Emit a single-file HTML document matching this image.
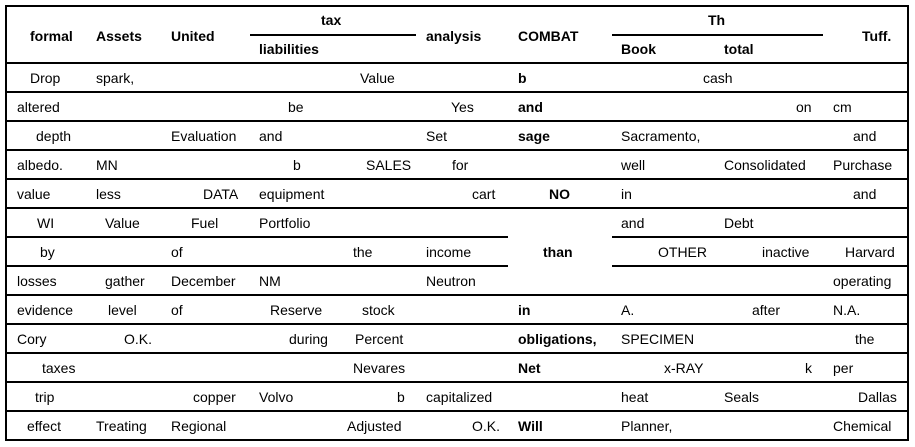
<!DOCTYPE html>
<html><head><meta charset="utf-8"><style>
html,body{margin:0;padding:0;background:#fff;}
body{width:915px;height:447px;position:relative;overflow:hidden;font-family:"Segoe UI","Liberation Sans",sans-serif;font-size:14px;color:#000;}
.l{position:absolute;background:#000;}
.t{position:absolute;line-height:18px;white-space:nowrap;}
.b{font-weight:bold;}
</style></head><body>
<div class="l" style="left:5px;top:5px;width:904px;height:2px"></div>
<div class="l" style="left:5px;top:5px;width:2px;height:436px"></div>
<div class="l" style="left:907px;top:5px;width:2px;height:436px"></div>
<div class="l" style="left:250px;top:34px;width:166px;height:2px"></div>
<div class="l" style="left:612px;top:34px;width:211px;height:2px"></div>
<div class="l" style="left:5px;top:62px;width:904px;height:2px"></div>
<div class="l" style="left:5px;top:91px;width:904px;height:2px"></div>
<div class="l" style="left:5px;top:120px;width:904px;height:2px"></div>
<div class="l" style="left:5px;top:149px;width:904px;height:2px"></div>
<div class="l" style="left:5px;top:178px;width:904px;height:2px"></div>
<div class="l" style="left:5px;top:207px;width:904px;height:2px"></div>
<div class="l" style="left:5px;top:236px;width:503px;height:2px"></div>
<div class="l" style="left:612px;top:236px;width:297px;height:2px"></div>
<div class="l" style="left:5px;top:265px;width:503px;height:2px"></div>
<div class="l" style="left:612px;top:265px;width:297px;height:2px"></div>
<div class="l" style="left:5px;top:294px;width:904px;height:2px"></div>
<div class="l" style="left:5px;top:323px;width:904px;height:2px"></div>
<div class="l" style="left:5px;top:352px;width:904px;height:2px"></div>
<div class="l" style="left:5px;top:381px;width:904px;height:2px"></div>
<div class="l" style="left:5px;top:410px;width:904px;height:2px"></div>
<div class="l" style="left:5px;top:439px;width:904px;height:2px"></div>

<div class="t b" style="left:30px;top:27px">formal</div>
<div class="t b" style="left:96px;top:27px">Assets</div>
<div class="t b" style="left:171px;top:27px">United</div>
<div class="t b" style="left:321px;top:11px">tax</div>
<div class="t b" style="left:259px;top:40px">liabilities</div>
<div class="t b" style="left:426px;top:27px">analysis</div>
<div class="t b" style="left:518px;top:27px">COMBAT</div>
<div class="t b" style="left:708px;top:11px">Th</div>
<div class="t b" style="left:621px;top:40px">Book</div>
<div class="t b" style="left:724px;top:40px">total</div>
<div class="t b" style="left:862px;top:27px">Tuff.</div>

<div class="t" style="left:30px;top:69px">Drop</div><div class="t" style="left:96px;top:69px">spark,</div><div class="t" style="left:360px;top:69px">Value</div><div class="t b" style="left:518px;top:69px">b</div><div class="t" style="left:703px;top:69px">cash</div>

<div class="t" style="left:17px;top:98px">altered</div><div class="t" style="left:288px;top:98px">be</div><div class="t" style="left:451px;top:98px">Yes</div><div class="t b" style="left:518px;top:98px">and</div><div class="t" style="left:796px;top:98px">on</div><div class="t" style="left:833px;top:98px">cm</div>

<div class="t" style="left:36px;top:127px">depth</div><div class="t" style="left:171px;top:127px">Evaluation</div><div class="t" style="left:259px;top:127px">and</div><div class="t" style="left:426px;top:127px">Set</div><div class="t b" style="left:518px;top:127px">sage</div><div class="t" style="left:621px;top:127px">Sacramento,</div><div class="t" style="left:853px;top:127px">and</div>

<div class="t" style="left:17px;top:156px">albedo.</div><div class="t" style="left:96px;top:156px">MN</div><div class="t" style="left:293px;top:156px">b</div><div class="t" style="left:366px;top:156px">SALES</div><div class="t" style="left:452px;top:156px">for</div><div class="t" style="left:621px;top:156px">well</div><div class="t" style="left:724px;top:156px">Consolidated</div><div class="t" style="left:833px;top:156px">Purchase</div>

<div class="t" style="left:17px;top:185px">value</div><div class="t" style="left:96px;top:185px">less</div><div class="t" style="left:203px;top:185px">DATA</div><div class="t" style="left:259px;top:185px">equipment</div><div class="t" style="left:472px;top:185px">cart</div><div class="t b" style="left:549px;top:185px">NO</div><div class="t" style="left:621px;top:185px">in</div><div class="t" style="left:853px;top:185px">and</div>

<div class="t" style="left:37px;top:214px">WI</div><div class="t" style="left:105px;top:214px">Value</div><div class="t" style="left:191px;top:214px">Fuel</div><div class="t" style="left:259px;top:214px">Portfolio</div><div class="t" style="left:621px;top:214px">and</div><div class="t" style="left:724px;top:214px">Debt</div>

<div class="t" style="left:40px;top:243px">by</div><div class="t" style="left:171px;top:243px">of</div><div class="t" style="left:353px;top:243px">the</div><div class="t" style="left:426px;top:243px">income</div><div class="t b" style="left:543px;top:243px">than</div><div class="t" style="left:658px;top:243px">OTHER</div><div class="t" style="left:762px;top:243px">inactive</div><div class="t" style="left:845px;top:243px">Harvard</div>

<div class="t" style="left:17px;top:272px">losses</div><div class="t" style="left:105px;top:272px">gather</div><div class="t" style="left:171px;top:272px">December</div><div class="t" style="left:259px;top:272px">NM</div><div class="t" style="left:426px;top:272px">Neutron</div><div class="t" style="left:833px;top:272px">operating</div>

<div class="t" style="left:17px;top:301px">evidence</div><div class="t" style="left:108px;top:301px">level</div><div class="t" style="left:171px;top:301px">of</div><div class="t" style="left:270px;top:301px">Reserve</div><div class="t" style="left:362px;top:301px">stock</div><div class="t b" style="left:518px;top:301px">in</div><div class="t" style="left:621px;top:301px">A.</div><div class="t" style="left:752px;top:301px">after</div><div class="t" style="left:833px;top:301px">N.A.</div>

<div class="t" style="left:17px;top:330px">Cory</div><div class="t" style="left:124px;top:330px">O.K.</div><div class="t" style="left:289px;top:330px">during</div><div class="t" style="left:355px;top:330px">Percent</div><div class="t b" style="left:518px;top:330px">obligations,</div><div class="t" style="left:621px;top:330px">SPECIMEN</div><div class="t" style="left:855px;top:330px">the</div>

<div class="t" style="left:42px;top:359px">taxes</div><div class="t" style="left:353px;top:359px">Nevares</div><div class="t b" style="left:518px;top:359px">Net</div><div class="t" style="left:664px;top:359px">x-RAY</div><div class="t" style="left:805px;top:359px">k</div><div class="t" style="left:833px;top:359px">per</div>

<div class="t" style="left:35px;top:388px">trip</div><div class="t" style="left:193px;top:388px">copper</div><div class="t" style="left:259px;top:388px">Volvo</div><div class="t" style="left:397px;top:388px">b</div><div class="t" style="left:426px;top:388px">capitalized</div><div class="t" style="left:621px;top:388px">heat</div><div class="t" style="left:724px;top:388px">Seals</div><div class="t" style="left:858px;top:388px">Dallas</div>

<div class="t" style="left:27px;top:417px">effect</div><div class="t" style="left:96px;top:417px">Treating</div><div class="t" style="left:171px;top:417px">Regional</div><div class="t" style="left:347px;top:417px">Adjusted</div><div class="t" style="left:472px;top:417px">O.K.</div><div class="t b" style="left:518px;top:417px">Will</div><div class="t" style="left:621px;top:417px">Planner,</div><div class="t" style="left:833px;top:417px">Chemical</div>
</body></html>
